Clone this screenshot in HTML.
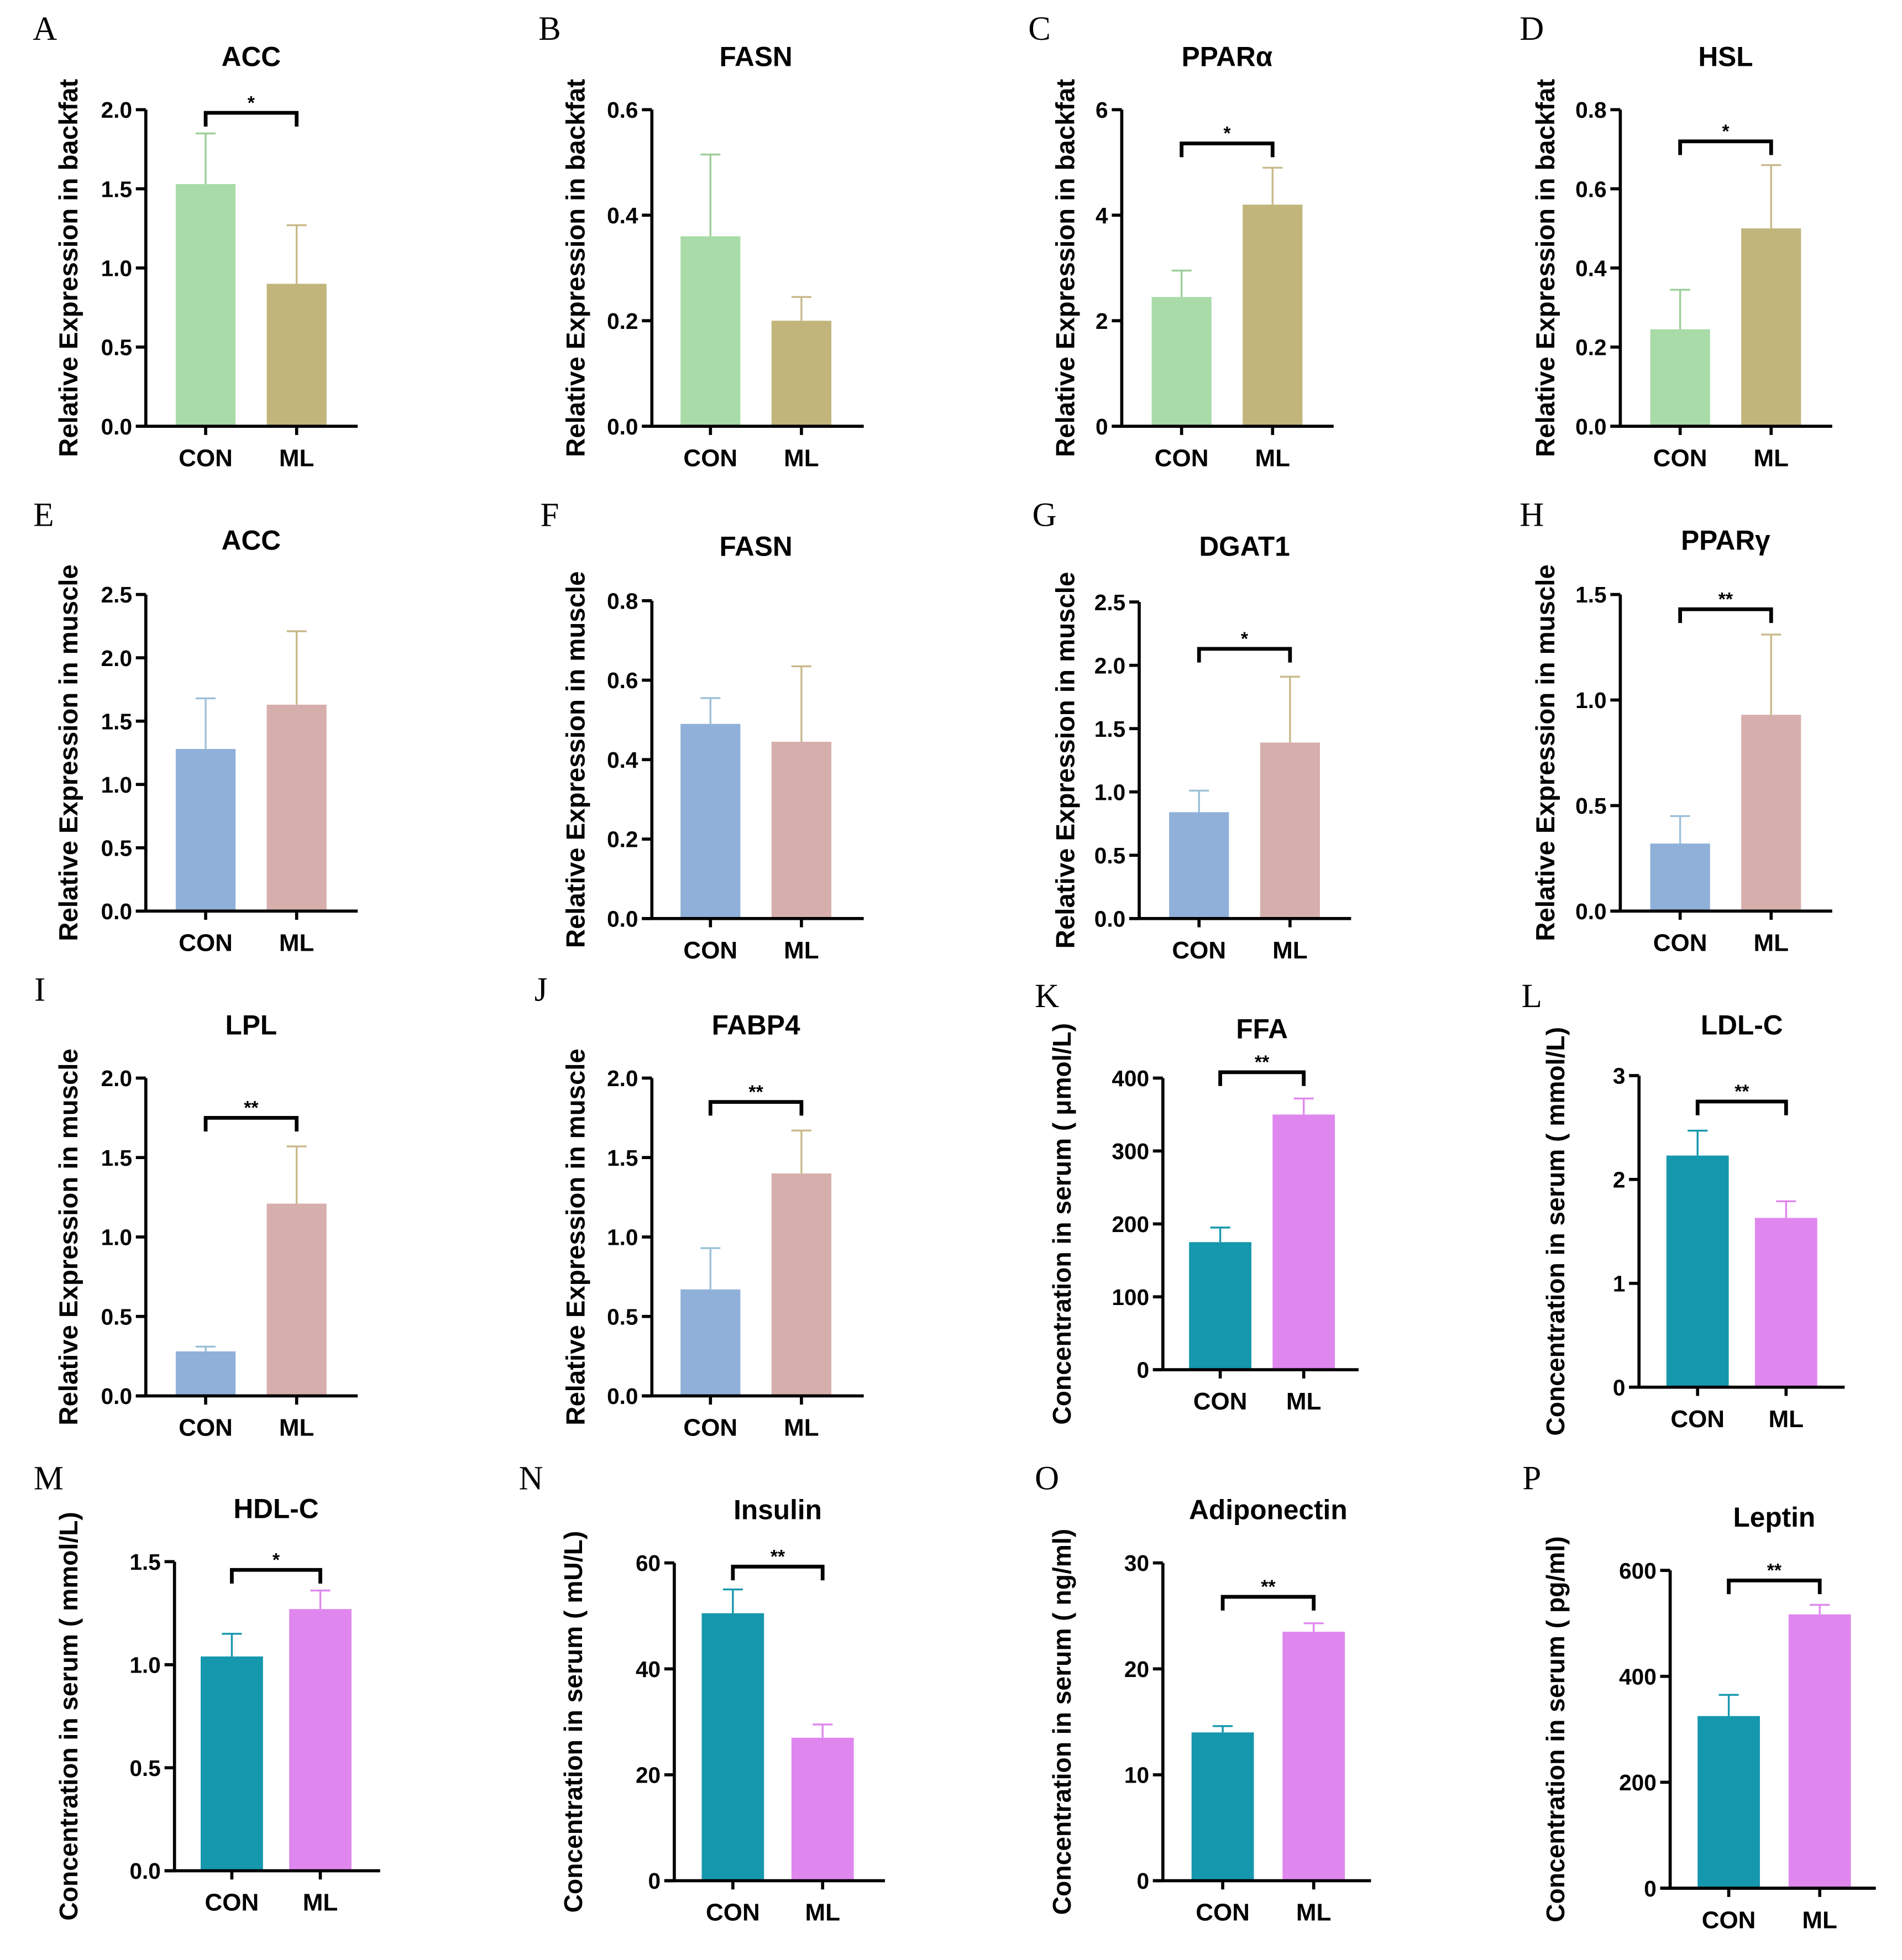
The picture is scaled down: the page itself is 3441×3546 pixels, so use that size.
<!DOCTYPE html>
<html><head><meta charset="utf-8"><style>
html,body{margin:0;padding:0;background:#fff;}
svg{display:block;}
text{font-family:"Liberation Sans",sans-serif;}
text.letter{font-family:"Liberation Serif",serif;}
</style></head><body>
<svg id="fig" width="3441" height="3546" viewBox="0 0 1526 1572.6" preserveAspectRatio="none" xmlns="http://www.w3.org/2000/svg"></svg>
<script>
const panelLetters=["A","B","C","D","E","F","G","H","I","J","K","L","M","N","O","P"];
const panelTitles=["ACC","FASN","PPARα","HSL","ACC","FASN","DGAT1","PPARγ","LPL","FABP4","FFA","LDL-C","HDL-C","Insulin","Adiponectin","Leptin"];
const categories=["CON","ML"];
const conValues=[1.53,0.36,2.45,0.245,1.28,0.49,0.84,0.32,0.28,0.67,175,2.23,1.04,50.5,14,325];
const conErrTop=[1.85,0.515,2.95,0.345,1.68,0.555,1.01,0.45,0.31,0.93,195,2.47,1.15,55,14.6,365];
const mlValues=[0.9,0.20,4.2,0.50,1.63,0.445,1.39,0.93,1.21,1.40,350,1.63,1.27,27,23.5,517];
const mlErrTop=[1.27,0.245,4.9,0.66,2.21,0.635,1.91,1.31,1.57,1.67,372,1.79,1.36,29.5,24.3,535];
const yMaxes=[2.0,0.6,6,0.8,2.5,0.8,2.5,1.5,2.0,2.0,400,3,1.5,60,30,600];
const yStepsArr=[0.5,0.2,2,0.2,0.5,0.2,0.5,0.5,0.5,0.5,100,1,0.5,20,10,200];
const sigMarks=["*","","*","*","","","*","**","**","**","**","**","*","**","**","**"];
const sigLevels=[1.98,0,5.36,0.72,0,0,2.13,1.43,1.75,1.85,408,2.75,1.46,59.3,26.8,581];
const yLabels=["Relative Expression in backfat","Relative Expression in backfat","Relative Expression in backfat","Relative Expression in backfat",
"Relative Expression in muscle","Relative Expression in muscle","Relative Expression in muscle","Relative Expression in muscle",
"Relative Expression in muscle","Relative Expression in muscle","Concentration in serum ( μmol/L)","Concentration in serum ( mmol/L)",
"Concentration in serum ( mmol/L)","Concentration in serum ( mU/L)","Concentration in serum ( ng/ml)","Concentration in serum ( pg/ml)"];
const L=[
 {ax:117,bot:342,top:88,end:287,c1:165,c2:238,ty:45,lx:36,ly:22,ylx:55},
 {ax:523,bot:342,top:88,end:693,c1:570,c2:643,ty:45,lx:441,ly:22,ylx:462},
 {ax:900,bot:342,top:88,end:1070,c1:948,c2:1021,ty:45,lx:834,ly:22,ylx:855},
 {ax:1300,bot:342,top:88,end:1470,c1:1348,c2:1421,ty:45,lx:1229,ly:22,ylx:1240},
 {ax:117,bot:731,top:477,end:287,c1:165,c2:238,ty:433,lx:35,ly:412,ylx:55},
 {ax:523,bot:737,top:482,end:693,c1:570,c2:643,ty:438,lx:441,ly:412,ylx:462},
 {ax:914,bot:737,top:483,end:1084,c1:962,c2:1035,ty:438,lx:838,ly:412,ylx:855},
 {ax:1300,bot:731,top:477,end:1470,c1:1348,c2:1421,ty:433,lx:1229,ly:412,ylx:1240},
 {ax:117,bot:1120,top:865,end:287,c1:165,c2:238,ty:822,lx:32,ly:793,ylx:55},
 {ax:523,bot:1120,top:865,end:693,c1:570,c2:643,ty:822,lx:434,ly:793,ylx:462},
 {ax:933,bot:1099,top:865,end:1090,c1:979,c2:1046,ty:825,lx:840,ly:798,ylx:852},
 {ax:1315,bot:1113,top:863,end:1480,c1:1362,c2:1433,ty:822,lx:1229,ly:798,ylx:1248},
 {ax:140,bot:1501,top:1253,end:305,c1:186,c2:257,ty:1210,lx:39,ly:1185,ylx:55},
 {ax:541,bot:1509,top:1254,end:710,c1:588,c2:660,ty:1211,lx:426,ly:1185,ylx:460},
 {ax:933,bot:1509,top:1254,end:1100,c1:981,c2:1054,ty:1211,lx:840,ly:1185,ylx:852},
 {ax:1340,bot:1515,top:1260,end:1505,c1:1387,c2:1460,ty:1217,lx:1229,ly:1185,ylx:1248}];
const NS="http://www.w3.org/2000/svg";
const svg=document.getElementById("fig");
function mk(tag,attrs,parent,txt){const e=document.createElementNS(NS,tag);for(const k in attrs)e.setAttribute(k,attrs[k]);if(txt!==undefined)e.textContent=txt;parent.appendChild(e);return e;}
function palette(i){if(i<4)return["#a9dba8","#c1b57c"];if(i<10)return["#8fb0d8","#d6afad"];return["#1597ad","#df87ef"];}
for(let i=0;i<16;i++){
 const p=L[i];const ymax=yMaxes[i],step=yStepsArr[i];
 const y=v=>p.bot-(v/ymax)*(p.bot-p.top);
 const g=mk("g",{},svg);
 
 
 const cols=palette(i);
 const lt=mk("text",{class:"letter",x:p.lx,y:p.ly+10,"font-size":27,"text-anchor":"middle"},g,panelLetters[i]);
 
 const tt=mk("text",{x:(p.c1+p.c2)/2,y:p.ty+8,"font-size":22,"font-weight":"bold","text-anchor":"middle"},g,panelTitles[i]);
 
 const yc=(p.top+p.bot)/2;
 const yl=mk("text",{x:p.ylx,y:yc,"font-size":i>=10?20.5:21,"font-weight":"bold","text-anchor":"middle",transform:`rotate(-90 ${p.ylx} ${yc})`,dy:7},g,yLabels[i]);
 
 const vals=[conValues[i],mlValues[i]],errs=[conErrTop[i],mlErrTop[i]],cs=[p.c1,p.c2];
 const bw=(i>=10)?50:48;
 for(let k=0;k<2;k++){
  const b=mk("rect",{x:cs[k]-bw/2,y:y(vals[k]),width:bw,height:p.bot-y(vals[k]),fill:cols[k]},g);
  
  const ec=k==0?(i>=10?"#1597ad":"#9cc0d8"):(i>=10?"#df87ef":"#c8b98a");
  const e=mk("path",{d:`M${cs[k]} ${y(vals[k])}V${y(errs[k])}M${cs[k]-8} ${y(errs[k])}H${cs[k]+8}`,stroke:i<4&&k==0?"#9ccf98":ec,"stroke-width":1.5,fill:"none"},g);
  
  mk("line",{x1:cs[k],x2:cs[k],y1:p.bot,y2:p.bot+7,stroke:"#000","stroke-width":2.5},g);
  const xl=mk("text",{x:cs[k],y:p.bot+32,"font-size":19.5,"font-weight":"bold","text-anchor":"middle"},g,categories[k]);
  
 }
 const ya=mk("line",{x1:p.ax,x2:p.ax,y1:p.top,y2:p.bot,stroke:"#000","stroke-width":2.5},g);
 
 const xa=mk("line",{x1:p.ax-8,x2:p.end,y1:p.bot,y2:p.bot,stroke:"#000","stroke-width":2.5},g);
 
 const dec=step<1?1:0;
 for(let v=0;v<=ymax+1e-9;v+=step){
  mk("line",{x1:p.ax-8,x2:p.ax,y1:y(v),y2:y(v),stroke:"#000","stroke-width":2.5},g);
  const t=mk("text",{x:p.ax-11,y:y(v)+6.5,"font-size":18,"font-weight":"bold","text-anchor":"end"},g,v.toFixed(dec));
  
 }
 if(sigMarks[i]){
  const sy=y(sigLevels[i]);
  const br=mk("path",{d:`M${p.c1} ${sy+11}V${sy}H${p.c2}V${sy+11}`,stroke:"#000","stroke-width":3,fill:"none"},g);
  
  const st=mk("text",{x:(p.c1+p.c2)/2,y:sy-3,"font-size":15,"font-weight":"bold","text-anchor":"middle"},g,sigMarks[i]);
  
 }
}
</script>
</body></html>
